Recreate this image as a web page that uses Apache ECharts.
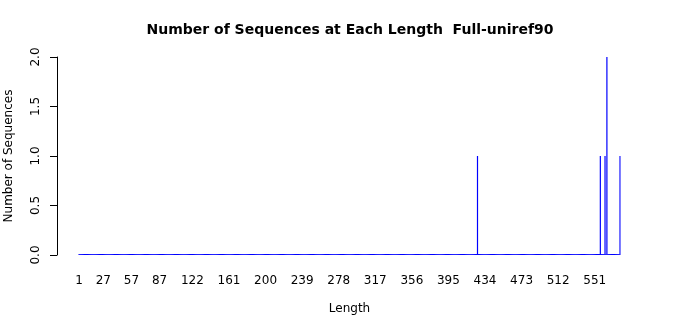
<!DOCTYPE html>
<html>
<head>
<meta charset="utf-8">
<script src="https://cdn.jsdelivr.net/npm/echarts@6/dist/echarts.min.js"></script>
<style>html,body{margin:0;padding:0;background:#fff;}#c{width:700px;height:315px;}</style>
</head>
<body>
<div id="c"></div>
<script>
// Sequence lengths 1..578 (every length is a category)
const maxLength = 578;
const lengths = [];
for (let i = 1; i <= maxLength; i++) lengths.push(i);
// Lengths that have sequences, and their counts
const observedLengths = [426, 557, 562, 564, 578];
const observedCounts  = [1, 1, 1, 2, 1];
// Tick labels shown on the x axis
const xTickLabels = [1, 27, 57, 87, 122, 161, 200, 239, 278, 317, 356, 395, 434, 473, 512, 551];
const yTicks = [0, 0.5, 1.0, 1.5, 2.0];

const counts = lengths.map(l => {
  const k = observedLengths.indexOf(l);
  return k >= 0 ? observedCounts[k] : 0;
});

const font = 'DejaVu Sans';
const chart = echarts.init(document.getElementById('c'), null, {renderer: 'canvas'});
chart.setOption({
  animation: false,
  backgroundColor: '#ffffff',
  title: {
    text: 'Number of Sequences at Each Length  Full-uniref90',
    left: 'center',
    top: 18,
    textStyle: {fontFamily: font, fontSize: 14, fontWeight: 'bold', color: '#000'}
  },
  grid: {left: 78.5, right: 79.5, top: 57, bottom: 60, containLabel: false, outerBoundsMode: 'none'},
  xAxis: {
    type: 'category',
    data: lengths.map(String),
    name: 'Length',
    nameLocation: 'middle',
    nameGap: 47.5,
    nameTextStyle: {fontFamily: font, fontSize: 12, color: '#000'},
    axisLine: {show: false},
    axisTick: {show: false},
    axisLabel: {
      interval: (idx, val) => xTickLabels.indexOf(Number(val)) >= 0,
      fontFamily: font, fontSize: 12, color: '#000', margin: 20
    },
    splitLine: {show: false}
  },
  yAxis: {
    type: 'value',
    min: yTicks[0],
    max: yTicks[yTicks.length - 1],
    interval: 0.5,
    offset: 21.5,
    name: 'Number of Sequences',
    nameLocation: 'middle',
    nameGap: 42,
    nameRotate: 90,
    nameTextStyle: {fontFamily: font, fontSize: 12, color: '#000'},
    axisLine: {show: true, lineStyle: {color: '#000', width: 1}},
    axisTick: {show: true, length: 7, lineStyle: {color: '#000'}},
    axisLabel: {
      rotate: 90,
      margin: 15,
      fontFamily: font, fontSize: 12, color: '#000',
      formatter: v => v.toFixed(1)
    },
    splitLine: {show: false}
  },
  series: [{
    type: 'bar',
    data: counts,
    barWidth: 1.2,
    barMinHeight: 1,
    itemStyle: {color: '#0000ff'},
    silent: true
  }]
});
</script>
</body>
</html>
